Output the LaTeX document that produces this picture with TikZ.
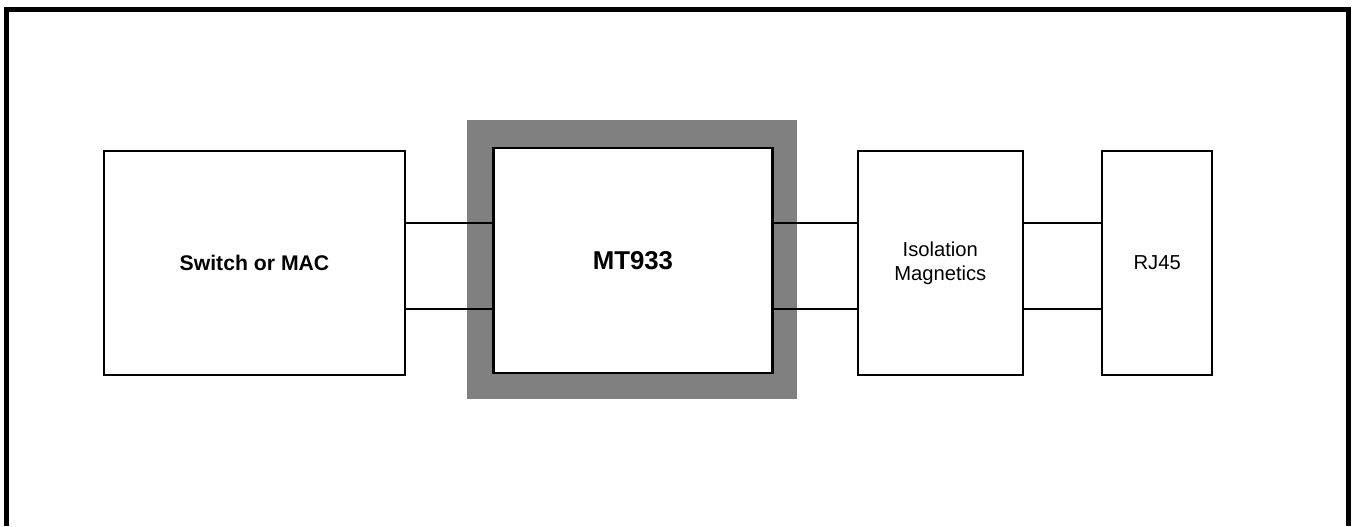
\documentclass[tikz,border=0pt]{standalone}
\usepackage{fontspec}
\setmainfont{Liberation Sans}
\usetikzlibrary{positioning, calc, backgrounds}

\begin{document}
\begin{tikzpicture}[x=0.5pt, y=-0.5pt, line width=1.2pt,
  block/.style={draw, rectangle, fill=white, minimum height=112pt, align=center, font=\fontsize{10.1}{12}\selectfont}]

\useasboundingbox (0,0) rectangle (1354,526);

% Frame (open at the bottom)
\draw[line width=2.5pt] (6.5,526) -- (6.5,9.5) -- (1348.5,9.5) -- (1348.5,526);

% Blocks
\node (sw) [block, minimum width=150.5pt, font=\fontsize{10.6}{12}\selectfont\bfseries] at (254.5,263) {Switch or MAC};
\node (mt) [block, minimum width=139.5pt, minimum height=112.5pt, right=43pt of sw, yshift=1.25pt, font=\fontsize{12.9}{14}\selectfont\bfseries] {MT933};
\node (iso) [block, minimum width=82.5pt, right=41.5pt of mt, yshift=-1.25pt] {Isolation\\Magnetics};
\node (rj) [block, minimum width=55pt, right=38.5pt of iso] {RJ45};

% Gray border round the PHY
\begin{scope}[on background layer]
\fill[gray] ($(mt.south west)+(-25,25)$) rectangle ($(mt.north east)+(23,-27)$);
\end{scope}

% Signal lines
\coordinate (upper) at (0,223);
\coordinate (lower) at (0,309);
\foreach \a/\b in {sw/mt, mt/iso, iso/rj} {
  \draw (\a.east |- upper) -- (\b.west |- upper);
  \draw (\a.east |- lower) -- (\b.west |- lower);
}

\end{tikzpicture}
\end{document}
